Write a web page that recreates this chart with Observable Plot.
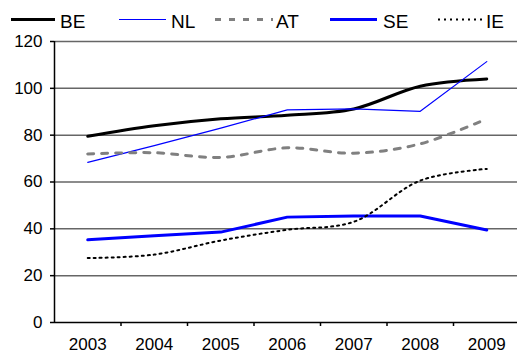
<!DOCTYPE html>
<html>
<head>
<meta charset="utf-8">
<script src="https://cdn.jsdelivr.net/npm/d3@7"></script>
<script src="https://cdn.jsdelivr.net/npm/@observablehq/plot@0.6"></script>
<style>
  body { margin: 0; background: #fff; font-family: "Liberation Sans", Arial, sans-serif; }
  #wrap { position: relative; width: 517px; height: 356px; }
  #legend { position: absolute; left: 0; top: 0; }
</style>
</head>
<body>
<div id="wrap"><div id="chart"></div><svg id="legend" width="517" height="36"></svg></div>
<script>
const years = [2003, 2004, 2005, 2006, 2007, 2008, 2009];
const BE = [79.5, 84, 87, 88.5, 91.2, 100.9, 104];
const NL = [68.4, 75.5, 83, 90.8, 91.2, 90.2, 111.4];
const AT = [72, 72.5, 70.5, 74.6, 72.3, 76.3, 87];
const SE = [35.3, 37, 38.6, 45, 45.5, 45.5, 39.5];
const IE = [27.5, 29, 35, 39.6, 43, 60.6, 65.6];
const yTicks = [0, 20, 40, 60, 80, 100, 120];

const seriesNames = ["BE", "NL", "AT", "SE", "IE"];
const seriesVals = {BE, NL, AT, SE, IE};
const styles = {
  BE: {stroke: "#000000", strokeWidth: 3, curve: "catmull-rom"},
  NL: {stroke: "#0000ff", strokeWidth: 1.2, curve: "linear"},
  AT: {stroke: "#808080", strokeWidth: 3, strokeDasharray: "6,8", curve: "catmull-rom"},
  SE: {stroke: "#0000ff", strokeWidth: 3, curve: "linear"},
  IE: {stroke: "#000000", strokeWidth: 2, strokeDasharray: "2,4", curve: "catmull-rom"}
};
const data = seriesNames.flatMap(s => years.map((y, i) => ({series: s, year: y, value: seriesVals[s][i]})));

const lineMarks = seriesNames.map(s => Plot.line(data.filter(d => d.series === s), {
  x: "year", y: "value", ...styles[s]
}));

const chart = Plot.plot({
  width: 517,
  height: 356,
  marginTop: 41,
  marginBottom: 34,
  marginLeft: 54,
  marginRight: 0,
  style: {fontFamily: "'Liberation Sans', Arial, sans-serif", background: "#fff", color: "#000"},
  x: {domain: [2002.5, 2009.5], range: [54, 519.5], label: null},
  y: {domain: [0, 120], label: null},
  marks: [
    Plot.ruleY(yTicks.filter(v => v > 0), {stroke: "#666", strokeWidth: 1.5}),
    ...lineMarks,
    Plot.ruleX([2002.5], {stroke: "#000", strokeWidth: 1.5}),
    Plot.ruleY([0], {stroke: "#000", strokeWidth: 1.5}),
    Plot.axisY({ticks: yTicks, tickSize: 4, tickPadding: 8, fontSize: 17, label: null, tickFormat: d => String(d), stroke: "#000", strokeWidth: 1.5}),
    Plot.axisX({ticks: years.map(y => y + 0.5), tickSize: 4, label: null, tickFormat: () => "", stroke: "#000", strokeWidth: 1.5}),
    Plot.axisX({ticks: years, tickSize: 0, tickPadding: 15, fontSize: 17, label: null, tickFormat: d => String(d)})
  ]
});
document.getElementById("chart").appendChild(chart);

// Legend
const legendItems = [
  {name: "BE", x1: 11, x2: 55, tx: 60},
  {name: "NL", x1: 119, x2: 166, tx: 171},
  {name: "AT", x1: 215, x2: 273, tx: 276},
  {name: "SE", x1: 330, x2: 377, tx: 383},
  {name: "IE", x1: 438, x2: 484, tx: 486}
];
const lg = d3.select("#legend");
legendItems.forEach(it => {
  const st = styles[it.name];
  lg.append("line").attr("x1", it.x1).attr("x2", it.x2).attr("y1", 19.5).attr("y2", 19.5)
    .attr("stroke", st.stroke).attr("stroke-width", st.strokeWidth)
    .attr("stroke-dasharray", st.strokeDasharray || null);
  lg.append("text").attr("x", it.tx).attr("y", 27.5).text(it.name)
    .attr("font-size", 19).attr("font-family", "'Liberation Sans', Arial, sans-serif").attr("fill", "#000");
});
</script>
</body>
</html>
